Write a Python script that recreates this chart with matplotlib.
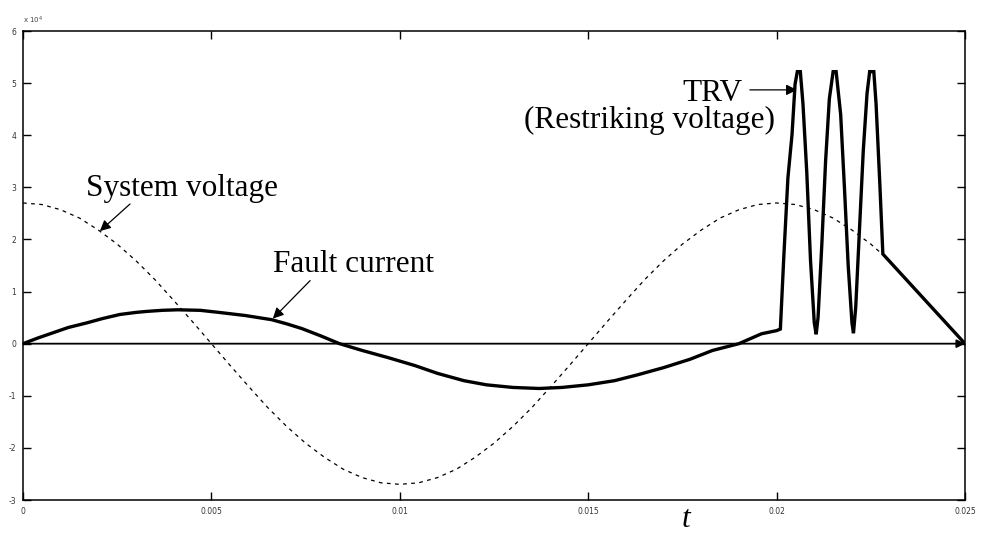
import matplotlib
matplotlib.use("Agg")
import matplotlib.pyplot as plt

# ---- data (values in units of 1e4) ----
volt_t = [0.0, 0.0005, 0.0010, 0.0015, 0.0020, 0.0025, 0.0030, 0.0035, 0.0040, 0.0045,
          0.0050, 0.0055, 0.0060, 0.0065, 0.0070, 0.0075, 0.0080, 0.0085, 0.0090, 0.0095,
          0.0100, 0.0105, 0.0110, 0.0115, 0.0120, 0.0125, 0.0130, 0.0135, 0.0140, 0.0145,
          0.0150, 0.0155, 0.0160, 0.0165, 0.0170, 0.0175, 0.0180, 0.0185, 0.0190, 0.0195,
          0.0200, 0.0205, 0.0210, 0.0215, 0.0220, 0.0225, 0.0228]
volt_v = [2.70, 2.67, 2.57, 2.41, 2.18, 1.91, 1.59, 1.23, 0.83, 0.42,
          0.00, -0.42, -0.83, -1.23, -1.59, -1.91, -2.18, -2.41, -2.57, -2.67,
          -2.70, -2.67, -2.57, -2.41, -2.18, -1.91, -1.59, -1.23, -0.83, -0.42,
          0.00, 0.42, 0.83, 1.23, 1.59, 1.91, 2.18, 2.41, 2.57, 2.67,
          2.70, 2.67, 2.57, 2.41, 2.18, 1.91, 1.72]

curr_t = [0.0, 0.0004, 0.0008, 0.0012, 0.0017, 0.0021, 0.00257, 0.0030, 0.0033, 0.0037,
          0.0041, 0.0047, 0.0052, 0.0059, 0.0066, 0.0070, 0.0074, 0.0079, 0.0084, 0.0090,
          0.0097, 0.0104, 0.0110, 0.0117, 0.0123, 0.0130, 0.0137, 0.0143, 0.0150, 0.0157,
          0.0163, 0.0170, 0.0177, 0.0183, 0.0190, 0.0196, 0.0200, 0.0201]
curr_v = [0.0, 0.11, 0.21, 0.31, 0.40, 0.48, 0.56, 0.60, 0.62, 0.64,
          0.65, 0.64, 0.60, 0.54, 0.46, 0.38, 0.29, 0.15, 0.0, -0.13,
          -0.27, -0.42, -0.57, -0.71, -0.79, -0.84, -0.86, -0.84, -0.79, -0.71,
          -0.60, -0.46, -0.30, -0.13, 0.0, 0.19, 0.25, 0.28]

trv_t = [0.0201, 0.02019, 0.0203, 0.02041, 0.02049, 0.02055, 0.02063,
         0.0207, 0.0208, 0.0209, 0.0210, 0.02105,
         0.0211, 0.0212, 0.0213, 0.0214, 0.0215, 0.02158,
         0.0217, 0.0218, 0.0219, 0.0220, 0.02204,
         0.0221, 0.0222, 0.0223, 0.0224, 0.02247, 0.02258,
         0.02264, 0.02274, 0.02282, 0.0250]
trv_v = [0.28, 1.65, 3.18, 4.02, 4.98, 5.22, 5.22,
         4.6, 3.3, 1.6, 0.4, 0.18,
         0.5, 1.9, 3.5, 4.7, 5.22, 5.22,
         4.4, 3.0, 1.5, 0.4, 0.2,
         0.7, 2.2, 3.7, 4.8, 5.22, 5.22,
         4.6, 3.06, 1.72, 0.0]

xticks = [0, 0.005, 0.01, 0.015, 0.02, 0.025]
xticklabels = ["0", "0.005", "0.01", "0.015", "0.02", "0.025"]
yticks = [-3, -2, -1, 0, 1, 2, 3, 4, 5, 6]

serif = ["Liberation Serif", "DejaVu Serif"]

fig = plt.figure(figsize=(9.81, 5.35), dpi=100)
ax = fig.add_axes([23/981, 1-500/535, (965-23)/981, (500-31)/535])

ax.plot(volt_t, volt_v, color="black", lw=0.9, dashes=(3, 3.5))
ax.plot(curr_t + trv_t, curr_v + trv_v, color="black", lw=2.4, solid_joinstyle="miter")

# zero axis with arrow
ax.annotate("", xy=(0.025, 0), xytext=(0, 0),
            arrowprops=dict(arrowstyle="-|>", color="black", lw=1.3,
                            mutation_scale=12, shrinkA=0, shrinkB=0))

ax.set_xlim(0, 0.025)
ax.set_ylim(-3, 6)
ax.set_xticks(xticks)
ax.set_xticklabels(xticklabels)
ax.set_yticks(yticks)
ax.set_yticklabels([str(v) for v in yticks])
ax.tick_params(direction="in", length=6, width=1.0, labelsize=5.5,
               labelcolor="#333333", top=True, right=True, pad=5)
for s in ax.spines.values():
    s.set_linewidth(1.1)

ax.text(0.0, 6.1, r"x 10$^4$", fontsize=5, color="#444444", ha="left", va="bottom")

arr = dict(arrowstyle="-|>", color="black", lw=0.9, mutation_scale=16, shrinkA=0, shrinkB=0)
ax.annotate("", xy=(0.00204, 2.16), xytext=(0.00284, 2.68), arrowprops=arr)
ax.annotate("", xy=(0.00663, 0.48), xytext=(0.00762, 1.21), arrowprops=arr)
ax.annotate("", xy=(0.02054, 4.87), xytext=(0.01929, 4.87), arrowprops=arr)

ax.text(0.00167, 2.835, "System voltage", family=serif, fontsize=22.5, va="baseline", ha="left")
ax.text(0.00663, 1.38, "Fault current", family=serif, fontsize=22.5, va="baseline", ha="left")
ax.text(0.01829, 4.655, "TRV", family=serif, fontsize=22.5, va="baseline", ha="center")
ax.text(0.01996, 4.14, "(Restriking voltage)", family=serif, fontsize=22.5, va="baseline", ha="right")
ax.text(0.01760, -3.52, "t", family=serif, style="italic", fontsize=22.5, va="baseline", ha="center")

fig.savefig("out.png", dpi=100)
